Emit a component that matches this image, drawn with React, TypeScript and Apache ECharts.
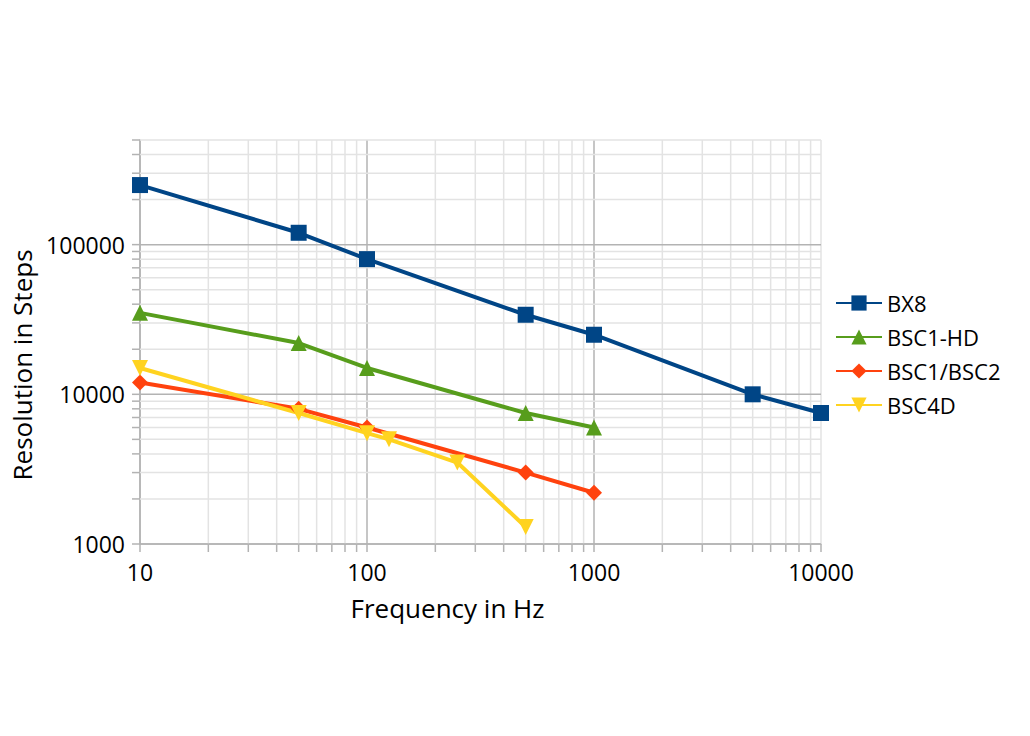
import React, { useEffect, useRef } from 'react';
import * as echarts from 'echarts';

// Frequency (Hz) / resolution (steps) per controller
const bx8Freq = [10, 50, 100, 500, 1000, 5000, 10000];
const bx8Res = [250000, 120000, 80000, 34000, 25000, 10000, 7500];

const bsc1hdFreq = [10, 50, 100, 500, 1000];
const bsc1hdRes = [35000, 22000, 15000, 7500, 6000];

const bsc12Freq = [10, 50, 100, 500, 1000];
const bsc12Res = [12000, 8000, 6000, 3000, 2200];

const bsc4dFreq = [10, 50, 100, 125, 250, 500];
const bsc4dRes = [15000, 7500, 5500, 5000, 3500, 1300];

// Grid values (log decades + minor lines)
const xMajor = [10, 100, 1000];
const xMinor = [20, 30, 40, 50, 60, 70, 80, 90, 200, 300, 400, 500, 600, 700, 800, 900,
  2000, 3000, 4000, 5000, 6000, 7000, 8000, 9000, 10000];
const yMajor = [1000, 10000, 100000];
const yMinor = [2000, 3000, 4000, 5000, 6000, 7000, 8000, 9000,
  20000, 30000, 40000, 50000, 60000, 70000, 80000, 90000, 200000, 300000, 400000, 500000];

const X_MIN = 10;
const X_MAX = 10000;
const Y_MIN = 1000;
const Y_MAX = 500000;

const FONT = '"Open Sans", sans-serif';

const pairs = (xs: number[], ys: number[]) => xs.map((x, i) => [x, ys[i]]);

const App: React.FC = () => {
  const chartRef = useRef<HTMLDivElement>(null);

  useEffect(() => {
    if (!chartRef.current) return;
    const chart = echarts.init(chartRef.current, undefined, { renderer: 'svg' });

    // [x, y, kind] kind: 0 = x minor, 1 = x major, 2 = y minor, 3 = y major
    const gridData: number[][] = [
      ...xMinor.map(v => [v, Y_MIN, 0]),
      ...xMajor.map(v => [v, Y_MIN, 1]),
      ...yMinor.map(v => [X_MIN, v, 2]),
      ...yMajor.map(v => [X_MIN, v, 3]),
    ];

    const isDecade = (v: number) => Math.abs(Math.log10(v) - Math.round(Math.log10(v))) < 1e-6;

    const mkLine = (name: string, data: number[][], color: string, symbol: string, size: number) => ({
      name,
      type: 'line',
      data,
      symbol,
      symbolSize: size,
      z: 5,
      lineStyle: { color, width: 4 },
      itemStyle: { color },
    });

    chart.setOption({
      animation: false,
      backgroundColor: '#ffffff',
      grid: { left: 140, right: 209, top: 140, bottom: 192 },
      legend: {
        data: ['BX8', 'BSC1-HD', 'BSC1/BSC2', 'BSC4D'],
        orient: 'vertical',
        left: 835,
        top: 292,
        padding: 0,
        itemWidth: 46,
        itemHeight: 19,
        itemGap: 12,
        textStyle: { fontFamily: FONT, fontSize: 22, color: '#000000', lineHeight: 22 },
      },
      xAxis: {
        type: 'log',
        logBase: 10,
        min: X_MIN,
        max: X_MAX,
        name: 'Frequency in Hz',
        nameLocation: 'middle',
        nameGap: 51,
        nameTextStyle: { fontFamily: FONT, fontSize: 26, color: '#000000', padding: [0, 66, 0, 0] },
        axisLine: { show: true, lineStyle: { color: '#b3b3b3', width: 1.5 } },
        axisTick: { show: false },
        splitLine: { show: false },
        axisLabel: {
          fontFamily: FONT,
          fontSize: 23,
          color: '#000000',
          margin: 16,
          formatter: (v: number) => (isDecade(v) ? String(Math.round(v)) : ''),
        },
      },
      yAxis: {
        type: 'log',
        logBase: 10,
        min: Y_MIN,
        max: Y_MAX,
        name: 'Resolution in Steps',
        nameLocation: 'middle',
        nameGap: 103,
        nameTextStyle: { fontFamily: FONT, fontSize: 26, color: '#000000', padding: [0, 46, 0, 0] },
        axisLine: { show: true, lineStyle: { color: '#b3b3b3', width: 1.5 } },
        axisTick: { show: false },
        splitLine: { show: false },
        axisLabel: {
          fontFamily: FONT,
          fontSize: 23,
          color: '#000000',
          margin: 15,
          formatter: (v: number) => (isDecade(v) ? String(Math.round(v)) : ''),
        },
      },
      series: [
        {
          type: 'custom',
          name: 'grid',
          z: 1,
          silent: true,
          clip: false,
          encode: { x: 0, y: 1 },
          data: gridData,
          renderItem: (_params: any, api: any) => {
            const x = api.value(0);
            const y = api.value(1);
            const kind = api.value(2);
            const major = kind === 1 || kind === 3;
            const color = major ? '#b3b3b3' : '#e3e3e3';
            const tick = 8;
            if (kind <= 1) {
              const bottom = api.coord([x, Y_MIN]);
              const top = api.coord([x, Y_MAX]);
              return {
                type: 'group',
                children: [
                  { type: 'line', shape: { x1: bottom[0], y1: top[1], x2: bottom[0], y2: bottom[1] }, style: { stroke: color, lineWidth: 1.5 } },
                  { type: 'line', shape: { x1: bottom[0], y1: bottom[1], x2: bottom[0], y2: bottom[1] + tick }, style: { stroke: '#b3b3b3', lineWidth: 1.5 } },
                ],
              };
            }
            const left = api.coord([X_MIN, y]);
            const right = api.coord([X_MAX, y]);
            return {
              type: 'group',
              children: [
                { type: 'line', shape: { x1: left[0], y1: left[1], x2: right[0], y2: left[1] }, style: { stroke: color, lineWidth: 1.5 } },
                { type: 'line', shape: { x1: left[0] - tick, y1: left[1], x2: left[0], y2: left[1] }, style: { stroke: '#b3b3b3', lineWidth: 1.5 } },
              ],
            };
          },
        },
        mkLine('BX8', pairs(bx8Freq, bx8Res), '#004586', 'rect', 16),
        mkLine('BSC1-HD', pairs(bsc1hdFreq, bsc1hdRes), '#579d1c', 'triangle', 16),
        mkLine('BSC1/BSC2', pairs(bsc12Freq, bsc12Res), '#ff420e', 'diamond', 16),
        mkLine('BSC4D', pairs(bsc4dFreq, bsc4dRes), '#ffd320', 'path://M0,0 L10,0 L5,9 Z', 16),
      ],
    });

    return () => {
      chart.dispose();
    };
  }, []);

  return (
    <div
      ref={chartRef}
      style={{ position: 'absolute', left: 0, top: 0, width: 1030, height: 736 }}
    />
  );
};

export default App;
